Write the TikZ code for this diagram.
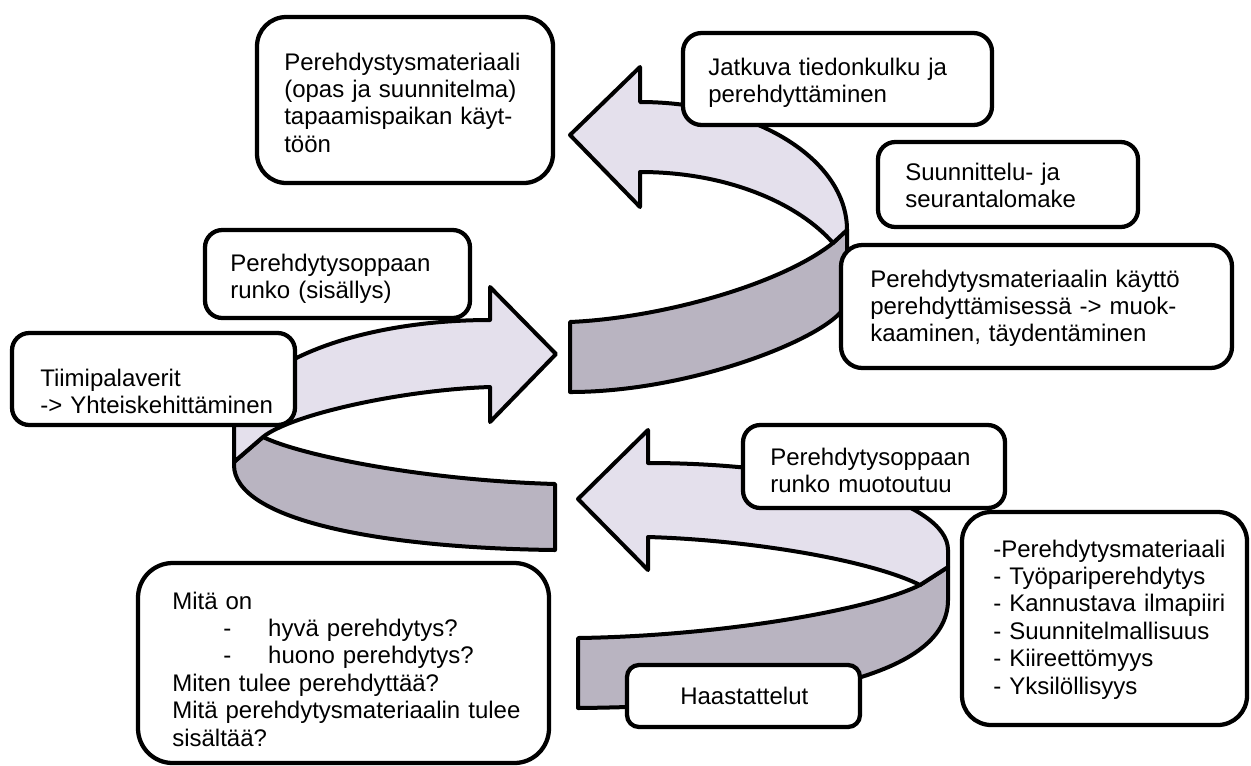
\documentclass[tikz,border=0pt]{standalone}
\usepackage{fontspec}
\setmainfont{Liberation Sans}
\usetikzlibrary{fit}
\definecolor{ribbonlight}{RGB}{228,224,236}
\definecolor{ribbondark}{RGB}{185,180,193}
\newcommand{\cardfont}{\fontsize{18pt}{20.6pt}\selectfont}
\begin{document}
\begin{tikzpicture}[x=0.75pt,y=-0.75pt,
  ribbon/.style={draw=black,line width=3pt,line join=round},
  upper/.style={ribbon,fill=ribbonlight},
  under/.style={ribbon,fill=ribbondark},
  card/.style={draw=black,line width=3.2pt,fill=white,rounded corners=#1,inner sep=0pt},
  card/.default=13pt,
  cardtext/.style={inner sep=0pt,anchor=base west,align=left,text width=#1,font=\cardfont},
  cardtext/.default=300pt]
\useasboundingbox (0,0) rectangle (1251,765);

% ---- top ribbon: arrow turning back to the left ----
\path[under] (833,243) -- (847,230) -- (847,300)
  .. controls (847,330) and (700,392) .. (570,392) -- (570,322)
  .. controls (660,318) and (780,285) .. (833,243) -- cycle;
\path[upper] (570,135) -- (640,67) -- (640,102)
  .. controls (754,102) and (847,159) .. (847,230) -- (833,243)
  .. controls (800,205) and (730,172) .. (640,172) -- (640,207) -- cycle;

% ---- middle ribbon: arrow pointing right ----
\path[under] (263,437) .. controls (300,455) and (420,480) .. (555,484)
  -- (555,550) .. controls (380,548) and (234,520) .. (234,465)
  -- (234,462) -- cycle;
\path[upper] (556,354) -- (490,287) -- (490,320)
  .. controls (349,320) and (234,369) .. (234,430) -- (234,462) -- (263,437)
  .. controls (290,415) and (400,390) .. (490,387) -- (490,422) -- cycle;

% ---- bottom ribbon: arrow turning back to the left ----
\path[under] (920,585) -- (948,567) -- (948,600)
  .. controls (948,680) and (780,706) .. (578,708) -- (578,638)
  .. controls (720,636) and (870,610) .. (920,585) -- cycle;
\path[upper] (578,499) -- (648,430) -- (648,463)
  .. controls (814,463) and (948,502) .. (948,550) -- (948,567) -- (920,585)
  .. controls (870,560) and (750,540) .. (648,537) -- (648,570) -- cycle;

% ---- cards ----
\node[card=22pt, fit={(257,17) (553,183)}] (matbox) {};
\node[card=14pt, fit={(683,33) (992,125)}] (flowbox) {};
\node[card, fit={(878,142) (1138,227)}] (formbox) {};
\node[card=16pt, fit={(841,245) (1232,368)}] (usebox) {};
\node[card, fit={(205,230) (470,318)}] (framebox) {};
\node[card, fit={(12,333) (295,425)}] (teambox) {};
\node[card, fit={(743,425) (1005,508)}] (shapebox) {};
\node[card=22pt, fit={(962,512) (1247,725)}] (listbox) {};
\node[card=9pt, fit={(627,665) (860,727)}] (interviewbox) {};
\node[card=26pt, fit={(138,563) (549,763)}] (questionbox) {};

% ---- card texts ----
\node[cardtext] (mattext) at (284,70)
  {Perehdystysmateriaali\\(opas ja suunnitelma)\\tapaamispaikan käyt-\\töön};
\node[cardtext] (flowtext) at (708,75)
  {Jatkuva tiedonkulku ja\\perehdyttäminen};
\node[cardtext] (formtext) at (905,180)
  {Suunnittelu- ja\\seurantalomake};
\node[cardtext] (usetext) at (870,287)
  {Perehdytysmateriaalin käyttö\\perehdyttämisessä -> muok-\\kaaminen, täydentäminen};
\node[cardtext] (frametext) at (230,271)
  {Perehdytysoppaan\\runko (sisällys)};
\node[cardtext] (teamtext) at (40,386)
  {Tiimipalaverit\\-> Yhteiskehittäminen};
\node[cardtext] (shapetext) at (770,465)
  {Perehdytysoppaan\\runko muotoutuu};
\node[cardtext=210pt] (listtext) at (993,557)
  {-Perehdytysmateriaali\\- Työpariperehdytys\\- Kannustava ilmapiiri\\- Suunnitelmallisuus\\- Kiireettömyys\\- Yksilöllisyys};
\node[cardtext=150pt] (interviewtext) at (680,704) {Haastattelut};
\node[cardtext] (questiontext) at (172,609)
  {Mitä on\\
   \hspace*{38.25pt}\makebox[33.75pt][l]{-}hyvä perehdytys?\\
   \hspace*{38.25pt}\makebox[33.75pt][l]{-}huono perehdytys?\\
   Miten tulee perehdyttää?\\
   Mitä perehdytysmateriaalin tulee\\
   sisältää?};
\end{tikzpicture}
\end{document}
